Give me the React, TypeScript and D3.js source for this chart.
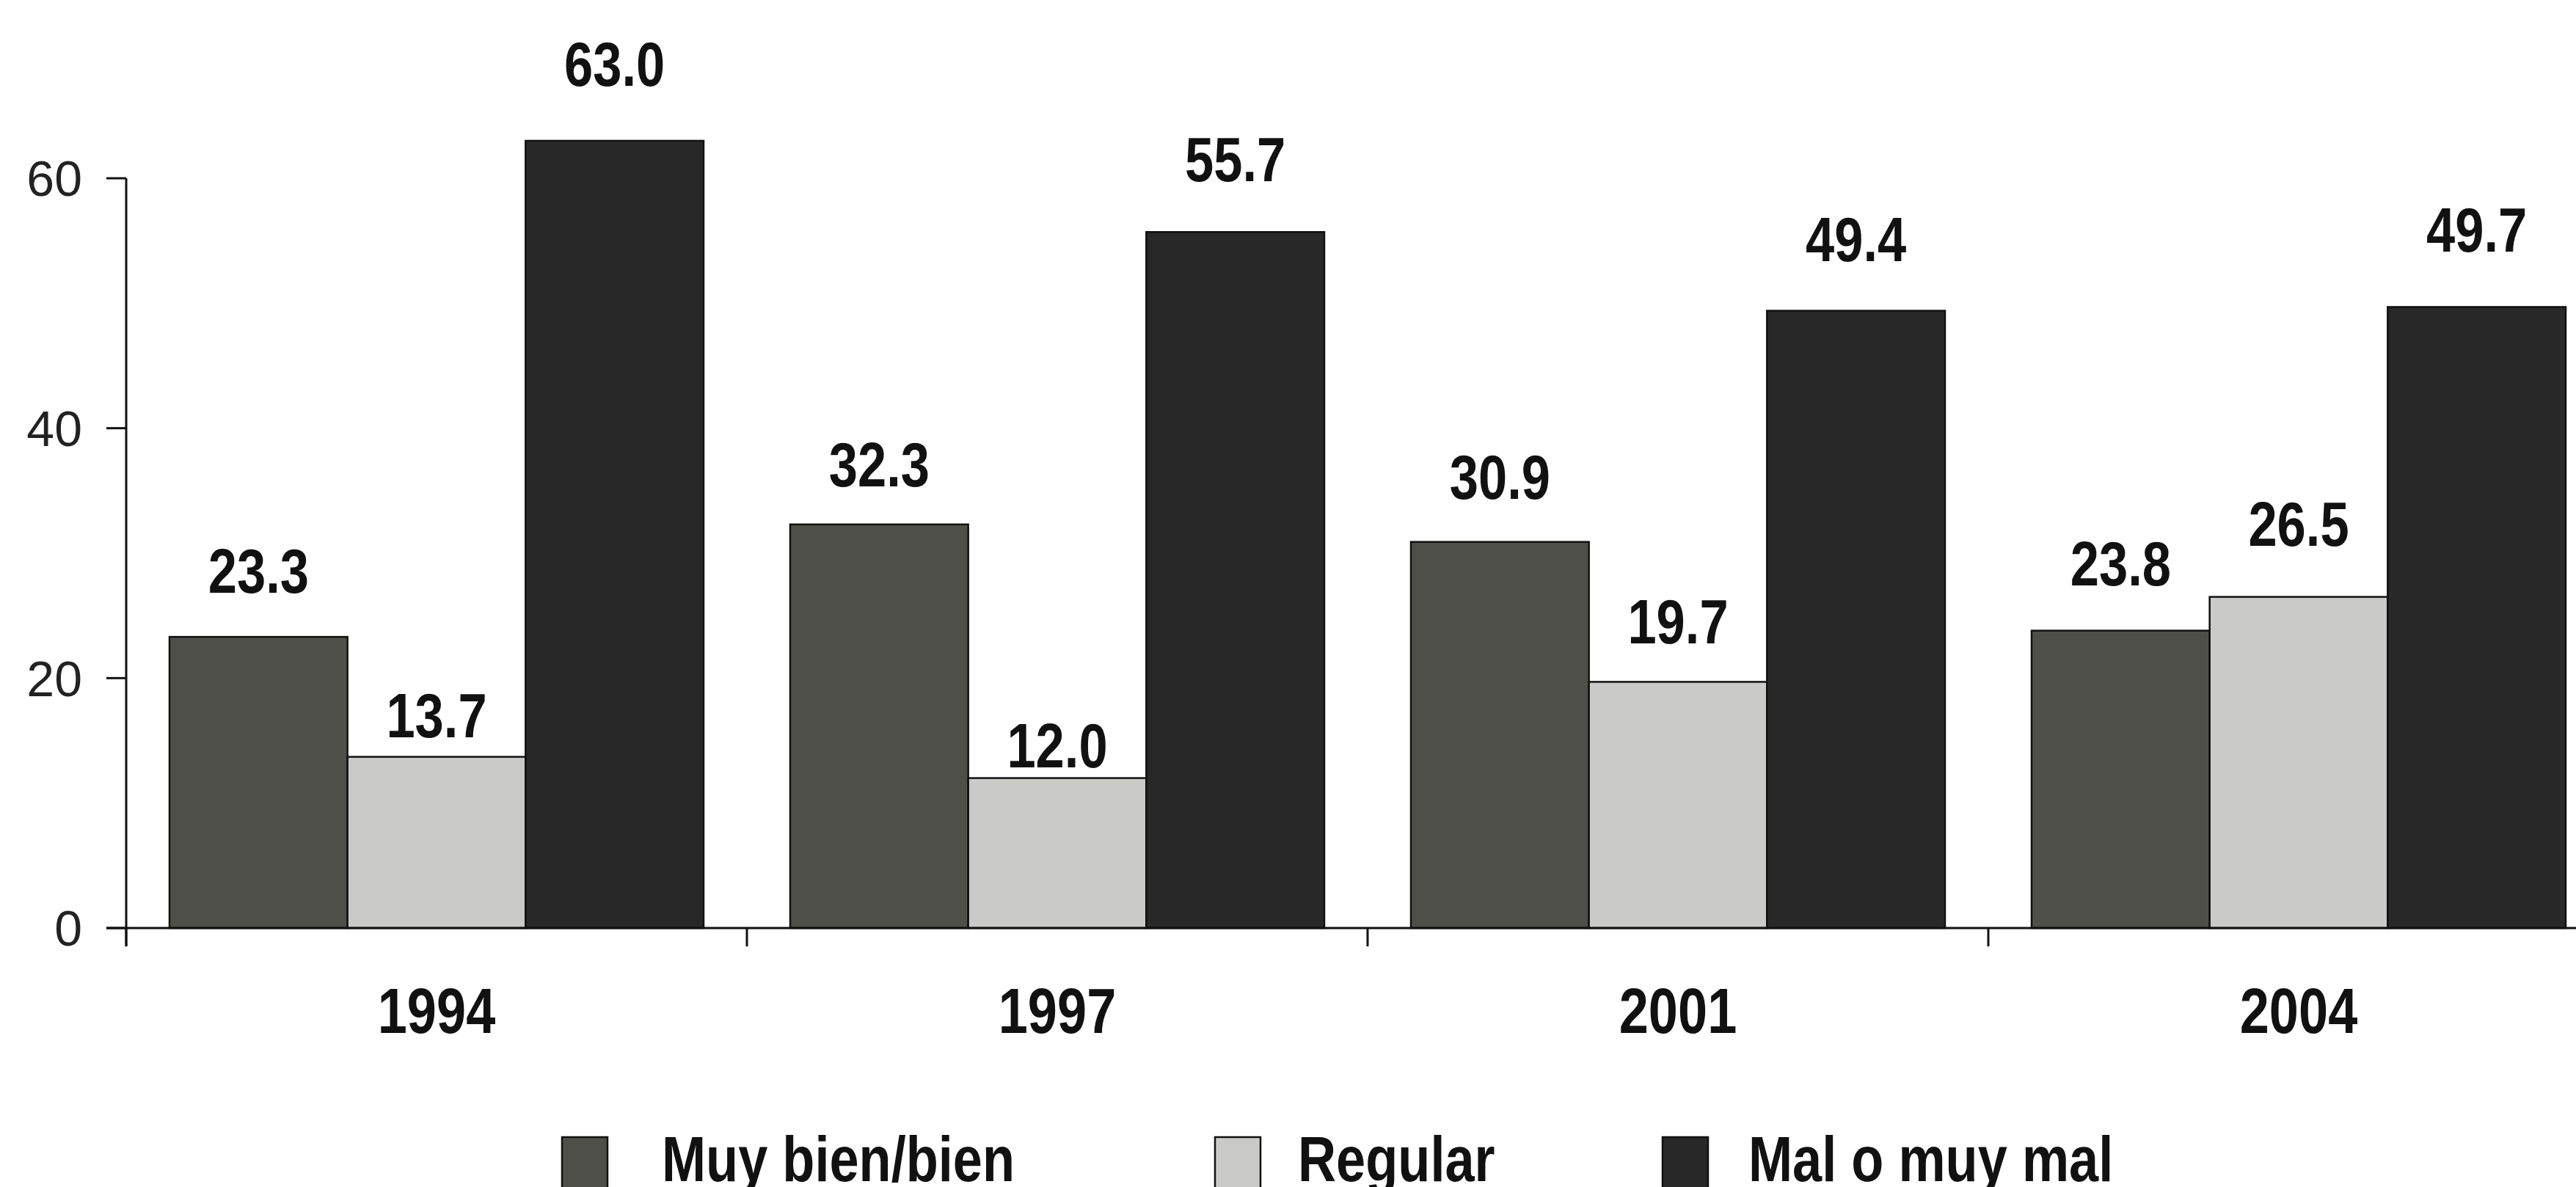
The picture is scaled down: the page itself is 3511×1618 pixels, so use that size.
import React from 'react';
import * as d3 from 'd3';

const years = ['1994', '1997', '2001', '2004'];
const seriesNames = ['Muy bien/bien', 'Regular', 'Mal o muy mal'];
const muyBien = [23.3, 32.3, 30.9, 23.8];
const regular = [13.7, 12.0, 19.7, 26.5];
const malo = [63.0, 55.7, 49.4, 49.7];
const yTicks = [0, 20, 40, 60];

const seriesValues = [muyBien, regular, malo];
const colors = ['#4f4f4a', '#cacac8', '#282828'];
// vertical distance (px) between each value label's baseline and its bar top
const labelGap = [
  [60, 52, 59, 62],
  [27, 15, 52, 70],
  [75, 69, 68, 75],
];

const W = 3511;
const H = 1618;
const FONT = "'Liberation Sans', Arial, sans-serif";
const SX = 0.82;

export default function App() {
  const x0 = d3.scaleBand<string>().domain(years).range([172, 3556]).padding(0);
  const bw = x0.bandwidth();
  const x1 = d3.scaleBand<string>().domain(seriesNames).range([59, bw - 59]).padding(0);
  const y = d3.scaleLinear().domain([0, 60]).range([1265, 243]);
  const y0 = y(0);
  const xTicks = [...years.map((yr) => x0(yr) as number), x0.range()[1]];

  const legendSquareX = [766, 1656, 2266];
  const legendTextX = [902, 1769, 2383];
  const sq = 62;

  return (
    <svg
      width={W}
      height={H}
      style={{ position: 'absolute', left: 0, top: 0, background: '#fff' }}
      fontFamily={FONT}
    >
      <rect x={0} y={0} width={W} height={H} fill="#fff" />
      {years.map((yr, i) => (
        <g key={yr} transform={`translate(${x0(yr)},0)`}>
          {seriesNames.map((s, j) => {
            const v = seriesValues[j][i];
            const bx = x1(s) as number;
            const by = y(v);
            return (
              <g key={s}>
                <rect
                  x={bx}
                  y={by}
                  width={x1.bandwidth()}
                  height={y0 - by}
                  fill={colors[j]}
                  stroke="#111"
                  strokeWidth={2.5}
                />
                <text
                  transform={`translate(${bx + x1.bandwidth() / 2},${by - labelGap[j][i]}) scale(${SX},1)`}
                  textAnchor="middle"
                  fontWeight="bold"
                  fontSize={86}
                  fill="#111"
                >
                  {v.toFixed(1)}
                </text>
              </g>
            );
          })}
        </g>
      ))}
      <line x1={172} x2={172} y1={y(60)} y2={y0 + 25} stroke="#111" strokeWidth={3} />
      {yTicks.map((t) => (
        <g key={t}>
          <line x1={145} x2={172} y1={y(t)} y2={y(t)} stroke="#111" strokeWidth={3} />
          <text x={112} y={y(t)} dy="0.36em" textAnchor="end" fontSize={68} fill="#222">
            {t}
          </text>
        </g>
      ))}
      <line x1={145} x2={W} y1={y0} y2={y0} stroke="#111" strokeWidth={3} />
      {xTicks.map((t, i) => (
        <line key={i} x1={t} x2={t} y1={y0} y2={y0 + 25} stroke="#111" strokeWidth={3} />
      ))}
      {years.map((yr) => (
        <text
          key={yr}
          transform={`translate(${(x0(yr) as number) + bw / 2},1408) scale(${SX},1)`}
          textAnchor="middle"
          fontWeight="bold"
          fontSize={88}
          fill="#111"
        >
          {yr}
        </text>
      ))}
      {seriesNames.map((s, j) => (
        <g key={s}>
          <rect
            x={legendSquareX[j]}
            y={1550}
            width={sq}
            height={sq + 10}
            fill={colors[j]}
            stroke="#111"
            strokeWidth={2.5}
          />
          <text
            transform={`translate(${legendTextX[j]},1610) scale(${SX},1)`}
            fontWeight="bold"
            fontSize={88}
            fill="#111"
          >
            {s}
          </text>
        </g>
      ))}
    </svg>
  );
}
